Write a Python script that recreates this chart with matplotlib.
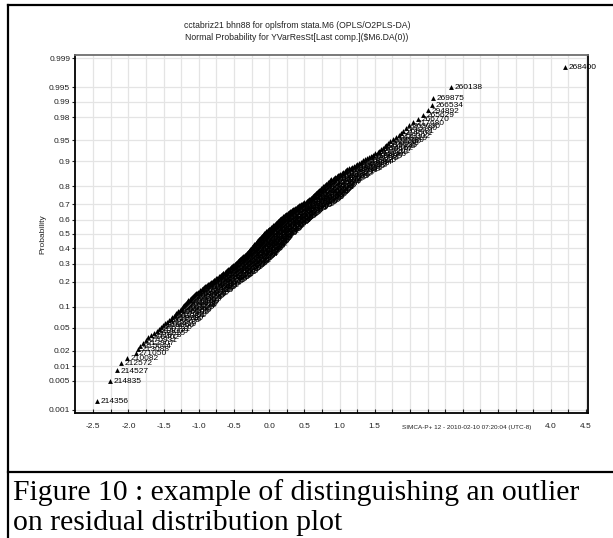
import numpy as np
import matplotlib
matplotlib.use('Agg')
import matplotlib.pyplot as plt
from matplotlib.lines import Line2D
from statistics import NormalDist

plt.rcParams['font.family'] = ['Liberation Sans', 'DejaVu Sans']

resid = [
    -2.45, -2.26, -2.16, -2.11, -2.02, -1.90, -1.87, -1.84, -1.79, -1.75,
    -1.72, -1.68, -1.64, -1.60, -1.57, -1.54, -1.51, -1.48, -1.45, -1.42,
    -1.40, -1.38, -1.36, -1.34, -1.32, -1.30, -1.29, -1.27, -1.25, -1.24,
    -1.22, -1.21, -1.20, -1.18, -1.17, -1.16, -1.15, -1.13, -1.12, -1.11,
    -1.10, -1.08, -1.07, -1.05, -1.04, -1.02, -1.01, -0.99, -0.98, -0.96,
    -0.95, -0.94, -0.92, -0.91, -0.90, -0.88, -0.87, -0.86, -0.84, -0.83,
    -0.82, -0.80, -0.79, -0.78, -0.76, -0.75, -0.74, -0.72, -0.71, -0.70,
    -0.69, -0.68, -0.67, -0.66, -0.65, -0.63, -0.62, -0.61, -0.60, -0.59,
    -0.58, -0.57, -0.56, -0.55, -0.54, -0.53, -0.52, -0.51, -0.50, -0.49,
    -0.48, -0.47, -0.47, -0.46, -0.45, -0.44, -0.43, -0.43, -0.42, -0.41,
    -0.40, -0.39, -0.38, -0.37, -0.37, -0.36, -0.35, -0.34, -0.33, -0.32,
    -0.32, -0.31, -0.30, -0.30, -0.29, -0.29, -0.28, -0.27, -0.27, -0.26,
    -0.25, -0.25, -0.24, -0.24, -0.23, -0.22, -0.22, -0.21, -0.21, -0.20,
    -0.19, -0.19, -0.18, -0.18, -0.17, -0.16, -0.16, -0.15, -0.15, -0.14,
    -0.13, -0.13, -0.12, -0.12, -0.11, -0.10, -0.10, -0.09, -0.09, -0.08,
    -0.08, -0.07, -0.06, -0.05, -0.05, -0.04, -0.03, -0.02, -0.02, -0.01,
    0.00, 0.01, 0.02, 0.02, 0.03, 0.04, 0.05, 0.05, 0.06, 0.07,
    0.08, 0.09, 0.09, 0.10, 0.11, 0.12, 0.12, 0.13, 0.14, 0.15,
    0.16, 0.16, 0.17, 0.18, 0.19, 0.20, 0.20, 0.21, 0.22, 0.23,
    0.24, 0.25, 0.26, 0.27, 0.28, 0.29, 0.30, 0.31, 0.32, 0.33,
    0.34, 0.35, 0.37, 0.38, 0.39, 0.40, 0.41, 0.43, 0.44, 0.45,
    0.46, 0.48, 0.49, 0.50, 0.52, 0.53, 0.54, 0.55, 0.57, 0.58,
    0.59, 0.60, 0.61, 0.62, 0.62, 0.63, 0.64, 0.65, 0.66, 0.67,
    0.68, 0.69, 0.70, 0.71, 0.72, 0.73, 0.74, 0.75, 0.76, 0.77,
    0.78, 0.79, 0.80, 0.81, 0.83, 0.84, 0.85, 0.86, 0.87, 0.88,
    0.90, 0.92, 0.94, 0.96, 0.98, 0.99, 1.01, 1.03, 1.05, 1.07,
    1.09, 1.11, 1.13, 1.16, 1.18, 1.20, 1.23, 1.25, 1.28, 1.30,
    1.33, 1.36, 1.39, 1.42, 1.45, 1.48, 1.51, 1.54, 1.56, 1.59,
    1.61, 1.64, 1.66, 1.69, 1.72, 1.76, 1.80, 1.84, 1.87, 1.90,
    1.94, 1.99, 2.05, 2.11, 2.18, 2.26, 2.31, 2.33, 2.58, 4.21,
]

# observation ids, same order as resid
ids_low = ['214356', '214835', '214527', '212572', '210082', '271050']
ids_mid = """
213088 215644 212907 270931 216402 211873 268215 214009 259731 217326 213650 262418
215207 266093 211546 218730 263384 212261 267049 216985 258102 214773 269660 213317
261825 217094 215528 264471 212839 270306 216150 259487 213962 268844 211705 265190
218263 214418 262957 216871 260633 213554 267722 215039 271483 212196 263805 217648
214980 258947 266371 211290 269108 216517 213833 264026 218455 260271 215796 212748
267584 214126 261349 217973 213472 270015 215361 262790 216744 259052 212583 268397
215915 263617 211968 266825 218039 214670 260904 217211 213269 269541 216059 262143
212417 265708 215482 258616 218892 213706 267263 216326 261072 214591 270748 211831
217435 264359 213125 268660 215270 259904 216808 212654 263041 218157 214842 266119
211417 269983 215699 262529 217767 213988 260486 216233 265457 212378 267905 214255
218608 261712 213571 264804 216092 270472 212880 259368 215024 268031 217539 263266
214336 266657 211604 261905 216649 213203 269327 218381 262664 215117 258789 212732
267416 214988 260152 217150 264693 213412 270864 216471 259615 211979 265942 215833
262272 218546 212305 268519 214697 263950 216907 261481 213745 267137 215376 260399
217862 212099 264168 215650 269790 213094 262006 218004 266280 214449 259209 216688
211752 270201 215905 263448 212556 267751 217308 261228 213860 265063 214577 268953
216280 259876 212961 264547 218710 214106 262831 215489 270619 213337 266418 217025
212648 260741 215773 268102 213519 263713 216950 258877 214285 267598 211898 264915
218173 261560 213680 269236 215132 262369 217460 212823 266006 214904 260088 216549
213979 270390 211650 263129 217894 265831 214628 259548 216167 268770 212467 262597
215304 267003 213208 261147 218421 264262 214051 269418 216793 260826 212041 265522
217571 263871 213864 268288 215718 258551 216396 262045 214712 266943 211938 270084
218944 261416 213391 264731 215995 269877 212716 263522 217201 260577 214162 267329
216035 262928 212280 265289 218319 259302 214501 268481 213780 263030 217680 266770
""".split()
ids_high = ['265629', '294892', '266534', '269875', '260138', '268400']
ids = ids_low + ids_mid + ids_high

prob_ticks = [0.001, 0.005, 0.01, 0.02, 0.05, 0.1, 0.2, 0.3, 0.4, 0.5,
              0.6, 0.7, 0.8, 0.9, 0.95, 0.98, 0.99, 0.995, 0.999]
prob_labels = ['0.001', '0.005', '0.01', '0.02', '0.05', '0.1', '0.2', '0.3', '0.4', '0.5',
               '0.6', '0.7', '0.8', '0.9', '0.95', '0.98', '0.99', '0.995', '0.999']
x_labels = ['-2.5', '-2.0', '-1.5', '-1.0', '-0.5', '0.0', '0.5', '1.0', '1.5',
            '2.0', '2.5', '3.0', '3.5', '4.0', '4.5']

# plotting positions for a normal probability plot
n = len(resid)
rank = np.arange(1, n + 1)
prob = (rank - 0.5) / n

nd = NormalDist()
_ppf = np.vectorize(lambda p: nd.inv_cdf(min(max(p, 1e-12), 1 - 1e-12)), otypes=[float])
_cdf = np.vectorize(lambda z: nd.cdf(z), otypes=[float])

def fwd(p):
    return _ppf(np.asarray(p, dtype=float))

def inv(z):
    return _cdf(np.asarray(z, dtype=float))

W, H = 613, 538
fig = plt.figure(figsize=(W / 100, H / 100), dpi=100)
fig.patch.set_facecolor('white')

ax = fig.add_axes([75 / W, 1 - 413 / H, (588 - 75) / W, (413 - 55) / H])
ax.set_yscale('function', functions=(fwd, inv))
ax.set_xlim(-2.76, 4.53)
ax.set_ylim(nd.cdf(-3.143), nd.cdf(3.143))

# grid every 0.25 on x, at each probability tick on y
for gx in np.arange(-2.5, 4.51, 0.25):
    ax.axvline(gx, color='#e4e4e4', lw=0.9, zorder=0)
for gy in prob_ticks:
    ax.axhline(gy, color='#e4e4e4', lw=0.9, zorder=0)

ax.plot(resid, prob, linestyle='none', marker='^', ms=3.5, color='black',
        markeredgewidth=0, zorder=3)
for xv, pv, lab in zip(resid, prob, ids):
    ax.annotate(lab, (xv, pv), xytext=(2.5, -0.5), textcoords='offset points',
                fontsize=6.0, va='center', ha='left', color='black', zorder=4)

ax.set_yticks(prob_ticks)
ax.set_yticklabels(prob_labels)
ax.yaxis.set_minor_locator(matplotlib.ticker.NullLocator())
ax.set_xticks(np.arange(-2.5, 4.51, 0.5))
ax.set_xticklabels(x_labels)
ax.set_xticks(np.arange(-2.5, 4.51, 0.25), minor=True)
ax.tick_params(axis='y', labelsize=6.0, length=2.5, width=0.8, pad=1, colors='#222222')
ax.tick_params(axis='x', which='both', direction='in', length=3, width=0.8,
               labelsize=6.0, pad=7, colors='#222222')
ax.set_ylabel('Probability', fontsize=6.0, labelpad=2, color='#222222')

for s in ['left', 'bottom', 'right']:
    ax.spines[s].set_linewidth(1.3)
    ax.spines[s].set_color('black')
ax.spines['top'].set_linewidth(1.3)
ax.spines['top'].set_color('#6e6e6e')

# software stamp, covering the 2.0 - 3.5 tick labels
fig.text(467 / W, 1 - 427 / H, 'SIMCA-P+ 12 - 2010-02-10 07:20:04 (UTC-8)',
         fontsize=4.6, ha='center', va='center', color='#222222',
         bbox=dict(facecolor='white', edgecolor='none', pad=2.5))

fig.text(297 / W, 1 - 26 / H, 'cctabriz21 bhn88 for oplsfrom stata.M6 (OPLS/O2PLS-DA)',
         fontsize=6.2, ha='center', va='center', color='#222222')
fig.text(297 / W, 1 - 38 / H, 'Normal Probability for YVarResSt[Last comp.]($M6.DA(0))',
         fontsize=6.2, ha='center', va='center', color='#222222')

# frame and caption
fig.add_artist(Line2D([8 / W, 8 / W], [0, 1 - 5 / H], color='black', lw=1.6))
fig.add_artist(Line2D([8 / W, 1], [1 - 5 / H, 1 - 5 / H], color='black', lw=1.6))
fig.add_artist(Line2D([8 / W, 1], [1 - 472 / H, 1 - 472 / H], color='black', lw=1.6))
fig.text(13 / W, 1 - 500 / H, 'Figure 10 : example of distinguishing an outlier',
         fontsize=21.3, family='Liberation Serif', ha='left', va='baseline')
fig.text(13 / W, 1 - 530 / H, 'on residual distribution plot',
         fontsize=21.3, family='Liberation Serif', ha='left', va='baseline')

fig.savefig('out.png', dpi=100)
